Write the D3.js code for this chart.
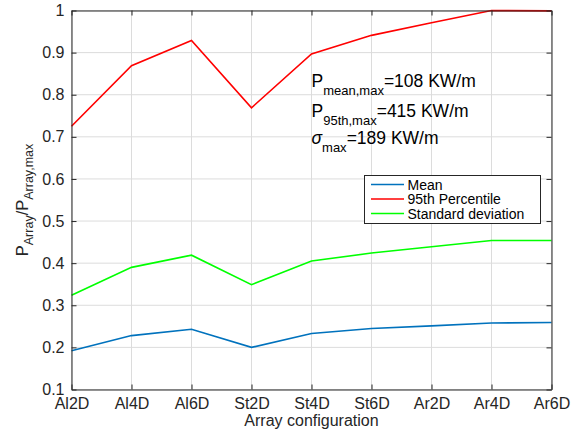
<!DOCTYPE html>
<html><head><meta charset="utf-8">
<script src="https://cdn.jsdelivr.net/npm/d3@7"></script>
<style>body{margin:0;background:#fff;} svg{display:block;font-family:"Liberation Sans",Arial,sans-serif;}</style>
</head><body>
<svg id="c" width="571" height="433"></svg>
<script>
const categories = ["Al2D","Al4D","Al6D","St2D","St4D","St6D","Ar2D","Ar4D","Ar6D"];
const meanVals = [0.192,0.228,0.243,0.200,0.233,0.245,0.251,0.258,0.259];
const p95Vals  = [0.725,0.869,0.929,0.769,0.897,0.941,0.971,1.000,0.999];
const stdVals  = [0.324,0.390,0.419,0.349,0.405,0.424,0.439,0.454,0.454];
const yTicks = [0.1,0.2,0.3,0.4,0.5,0.6,0.7,0.8,0.9,1];
const seriesNames = ["Mean","95th Percentile","Standard deviation"];
const seriesColors = ["#0072BD","#ff0000","#00ff00"];

const svg = d3.select("#c");
const L=71.5, R=551.5, T=10.5, B=389.5;
const x = d3.scalePoint().domain(categories).range([L,R]);
const y = d3.scaleLinear().domain([0.1,1]).range([B,T]);
const axisCol="#262626";

// grid
const g = svg.append("g");
g.selectAll(".gx").data(categories).join("line")
 .attr("x1",d=>x(d)).attr("x2",d=>x(d)).attr("y1",T).attr("y2",B)
 .attr("stroke","#dcdcdc").attr("stroke-width",1);
g.selectAll(".gy").data(yTicks).join("line")
 .attr("x1",L).attr("x2",R).attr("y1",d=>y(d)).attr("y2",d=>y(d))
 .attr("stroke","#dcdcdc").attr("stroke-width",1);

// series
const allSeries=[meanVals,p95Vals,stdVals];
const line = d3.line().x((d,i)=>x(categories[i])).y(d=>y(d));
allSeries.forEach((s,k)=>{
  svg.append("path").datum(s).attr("d",line).attr("fill","none")
   .attr("stroke",seriesColors[k]).attr("stroke-width",1.6);
});

// axes
const ax = svg.append("g").attr("transform",`translate(0,${B})`)
 .call(d3.axisBottom(x).tickSizeInner(-5).tickSizeOuter(0).tickPadding(8));
const ay = svg.append("g").attr("transform",`translate(${L},0)`)
 .call(d3.axisLeft(y).tickValues(yTicks).tickFormat(d3.format("~g")).tickSizeInner(-5).tickSizeOuter(0).tickPadding(7));
const axTop = svg.append("g").attr("transform",`translate(0,${T})`)
 .call(d3.axisTop(x).tickSizeInner(-5).tickSizeOuter(0).tickFormat(""));
const ayR = svg.append("g").attr("transform",`translate(${R},0)`)
 .call(d3.axisRight(y).tickValues(yTicks).tickSizeInner(-5).tickSizeOuter(0).tickFormat(""));
[ax,ay,axTop,ayR].forEach(a=>{
  a.selectAll("path,line").attr("stroke",axisCol).attr("stroke-width",1);
  a.selectAll("text").attr("fill",axisCol).style("font-size","16px").style("font-family","'Liberation Sans',Arial,sans-serif");
});
ax.selectAll("text").attr("dy","0.71em");

// x label
svg.append("text").attr("x",(L+R)/2).attr("y",426).attr("text-anchor","middle")
 .attr("fill",axisCol).style("font-size","16px").text("Array configuration");

// y label
const yl = svg.append("text").attr("transform",`translate(28,${(T+B)/2}) rotate(-90)`)
 .attr("text-anchor","middle").attr("fill",axisCol).style("font-size","16.5px");
yl.append("tspan").text("P");
yl.append("tspan").attr("dy",5).style("font-size","12.5px").text("Array");
yl.append("tspan").attr("dy",-5).text("/P");
yl.append("tspan").attr("dy",5).style("font-size","12.5px").text("Array,max");

// annotation
const ann = [
  {main:"P", sub:"mean,max", rest:"=108 KW/m", y:87, italic:false},
  {main:"P", sub:"95th,max", rest:"=415 KW/m", y:116.5, italic:false},
  {main:"σ", sub:"max", rest:"=189 KW/m", y:143.5, italic:true}
];
ann.forEach(a=>{
  const t = svg.append("text").attr("x",311.5).attr("y",a.y).attr("fill","#000").style("font-size","17.5px");
  t.append("tspan").style("font-style",a.italic?"italic":"normal").text(a.main);
  t.append("tspan").attr("dy",8).style("font-size","13px").text(a.sub);
  t.append("tspan").attr("dy",-8).text(a.rest);
});

// legend
const lg = svg.append("g");
lg.append("rect").attr("x",364.5).attr("y",175.5).attr("width",176).attr("height",48)
 .attr("fill","#fff").attr("stroke",axisCol).attr("stroke-width",1);
seriesNames.forEach((n,i)=>{
  const yy = 184.5 + i*14.5;
  lg.append("line").attr("x1",371).attr("x2",404).attr("y1",yy).attr("y2",yy)
   .attr("stroke",seriesColors[i]).attr("stroke-width",1.6);
  lg.append("text").attr("x",407.5).attr("y",yy+5).attr("fill","#000")
   .style("font-size","14px").text(n);
});
</script>
</body></html>
